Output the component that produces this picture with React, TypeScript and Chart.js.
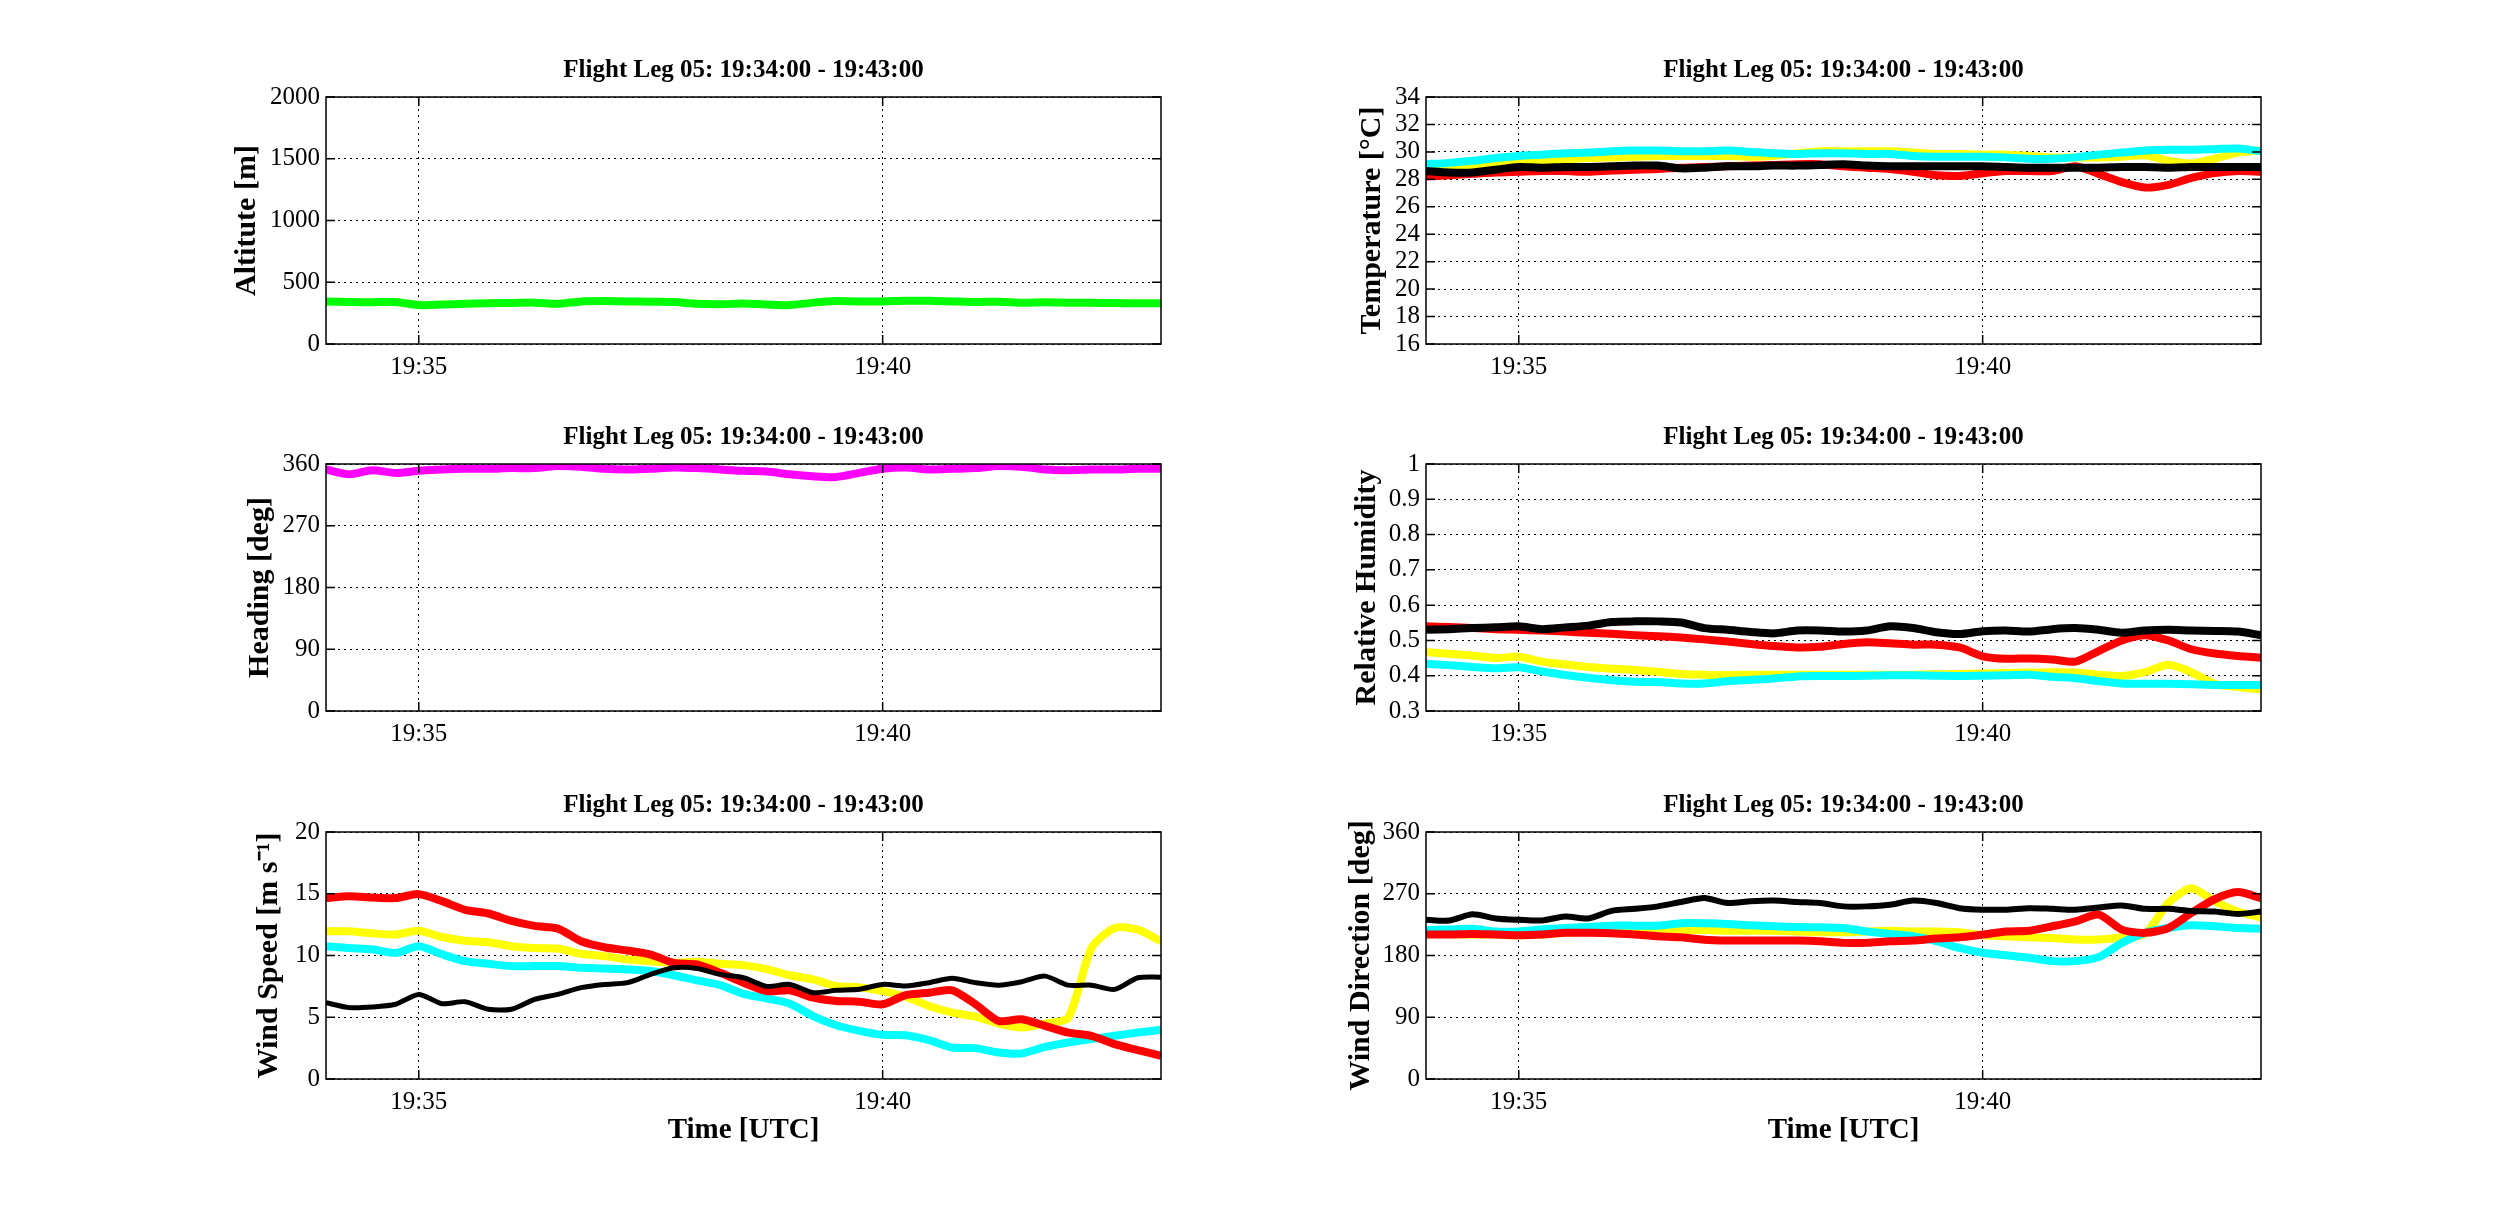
import React, { useEffect, useRef } from 'react';
import { Chart, registerables } from 'chart.js';

Chart.register(...registerables);
Chart.defaults.font.family = "'Liberation Serif', 'Times New Roman', serif";
Chart.defaults.color = '#000';

// seconds after 19:34:00
const timeSeconds = [0, 15, 30, 45, 60, 75, 90, 105, 120, 135, 150, 165, 180, 195, 210, 225, 240, 255, 270, 285, 300, 315, 330, 345, 360, 375, 390, 405, 420, 435, 450, 465, 480, 495, 510, 525, 540];
const xTickValues = [60, 360];
const xTickLabels = ['19:35', '19:40'];
const legTitle = 'Flight Leg 05: 19:34:00 - 19:43:00';

const altitude = [345, 340, 338, 340, 315, 320, 325, 330, 332, 335, 325, 345, 348, 345, 342, 340, 325, 322, 328, 320, 315, 335, 348, 345, 345, 350, 350, 345, 340, 343, 335, 338, 335, 333, 332, 330, 330];
const heading = [352, 345, 351, 347, 350, 352, 353, 353, 354, 354, 357, 356, 353, 352, 353, 355, 354, 352, 350, 349, 345, 342, 341, 347, 353, 355, 352, 353, 354, 357, 356, 352, 351, 352, 352, 353, 353];

const tempBlack = [28.6, 28.5, 28.5, 28.7, 28.9, 28.85, 28.9, 28.9, 28.95, 29.0, 29.0, 28.8, 28.85, 28.95, 28.95, 29.0, 29.0, 29.05, 29.1, 29.0, 28.95, 28.95, 28.95, 28.95, 28.95, 28.9, 28.85, 28.85, 28.85, 28.85, 28.9, 28.9, 28.85, 28.9, 28.9, 28.9, 28.9];
const tempRed = [28.2, 28.3, 28.4, 28.5, 28.55, 28.6, 28.6, 28.55, 28.65, 28.7, 28.75, 28.85, 28.9, 28.95, 29.0, 29.05, 29.1, 29.1, 28.95, 28.85, 28.75, 28.55, 28.3, 28.25, 28.45, 28.6, 28.6, 28.6, 28.95, 28.4, 27.8, 27.4, 27.6, 28.1, 28.45, 28.6, 28.55];
const tempCyan = [29.1, 29.2, 29.35, 29.55, 29.7, 29.8, 29.9, 29.95, 30.05, 30.1, 30.1, 30.05, 30.05, 30.1, 30.0, 29.9, 29.85, 29.9, 29.9, 29.85, 29.85, 29.7, 29.65, 29.65, 29.65, 29.6, 29.5, 29.5, 29.6, 29.8, 29.95, 30.1, 30.15, 30.15, 30.2, 30.25, 30.05];
const tempYellow = [28.8, 28.8, 28.9, 29.1, 29.2, 29.3, 29.45, 29.55, 29.6, 29.65, 29.7, 29.7, 29.7, 29.7, 29.65, 29.7, 29.9, 30.05, 30.05, 30.05, 30.05, 29.95, 29.85, 29.85, 29.8, 29.8, 29.7, 29.6, 29.6, 29.6, 29.65, 29.75, 29.35, 29.15, 29.5, 29.95, 30.1];

const rhBlack = [0.530, 0.532, 0.535, 0.537, 0.540, 0.532, 0.537, 0.542, 0.552, 0.554, 0.554, 0.551, 0.535, 0.530, 0.524, 0.520, 0.528, 0.528, 0.525, 0.528, 0.540, 0.535, 0.523, 0.518, 0.526, 0.528, 0.525, 0.532, 0.535, 0.530, 0.522, 0.528, 0.530, 0.528, 0.527, 0.525, 0.515];
const rhRed = [0.540, 0.538, 0.535, 0.532, 0.530, 0.528, 0.525, 0.522, 0.519, 0.515, 0.512, 0.508, 0.503, 0.497, 0.490, 0.484, 0.480, 0.482, 0.490, 0.495, 0.492, 0.488, 0.488, 0.480, 0.455, 0.448, 0.449, 0.446, 0.440, 0.470, 0.500, 0.515, 0.500, 0.475, 0.463, 0.456, 0.451];
const rhCyan = [0.434, 0.430, 0.425, 0.421, 0.424, 0.412, 0.402, 0.394, 0.387, 0.383, 0.382, 0.378, 0.378, 0.384, 0.388, 0.392, 0.398, 0.399, 0.399, 0.400, 0.401, 0.401, 0.400, 0.399, 0.400, 0.401, 0.403, 0.397, 0.393, 0.385, 0.378, 0.377, 0.377, 0.376, 0.374, 0.374, 0.374];
const rhYellow = [0.467, 0.462, 0.457, 0.450, 0.454, 0.440, 0.432, 0.425, 0.420, 0.416, 0.411, 0.405, 0.403, 0.402, 0.403, 0.403, 0.403, 0.403, 0.403, 0.403, 0.403, 0.403, 0.404, 0.405, 0.406, 0.408, 0.409, 0.410, 0.409, 0.403, 0.399, 0.410, 0.431, 0.410, 0.377, 0.368, 0.361];

const wsBlack = [6.18, 5.78, 5.83, 6.05, 6.85, 6.1, 6.26, 5.65, 5.65, 6.45, 6.85, 7.4, 7.66, 7.8, 8.47, 9.0, 8.95, 8.47, 8.2, 7.5, 7.66, 6.99, 7.18, 7.26, 7.66, 7.53, 7.8, 8.15, 7.8, 7.6, 7.88, 8.33, 7.6, 7.6, 7.26, 8.2, 8.25];
const wsRed = [14.65, 14.8, 14.7, 14.65, 14.97, 14.4, 13.7, 13.4, 12.8, 12.4, 12.18, 11.16, 10.67, 10.4, 10.08, 9.4, 9.27, 8.6, 7.8, 7.12, 7.18, 6.59, 6.32, 6.26, 6.05, 6.8, 6.99, 7.18, 6.05, 4.7, 4.84, 4.3, 3.76, 3.49, 2.82, 2.34, 1.88];
const wsCyan = [10.75, 10.6, 10.5, 10.2, 10.75, 10.1, 9.54, 9.33, 9.14, 9.14, 9.14, 9.0, 8.95, 8.87, 8.74, 8.4, 7.98, 7.6, 6.9, 6.53, 6.1, 5.1, 4.35, 3.9, 3.58, 3.55, 3.15, 2.55, 2.5, 2.15, 2.07, 2.6, 2.96, 3.23, 3.5, 3.76, 3.98];
const wsYellow = [11.96, 11.96, 11.8, 11.7, 12.0, 11.5, 11.2, 11.08, 10.75, 10.6, 10.56, 10.13, 9.95, 9.68, 9.54, 9.4, 9.49, 9.33, 9.22, 8.9, 8.4, 8.06, 7.53, 7.42, 7.12, 6.67, 5.91, 5.38, 5.05, 4.49, 4.17, 4.49, 4.97, 10.6, 12.23, 12.1, 11.16];

const wdBlack = [232, 231, 240, 234, 232, 231, 237, 234, 245, 248, 251.6, 258, 263.7, 256.5, 259, 260, 258, 256.5, 251.6, 251.6, 254, 260, 256.5, 249, 246.8, 246.8, 249, 248, 246.8, 250, 253, 248, 248, 245, 244, 240.5, 244];
const wdRed = [210.5, 210.5, 211.5, 210.5, 209.5, 210.5, 213, 213, 212.4, 210.5, 208, 206.6, 203, 201.8, 201.8, 201.8, 201.8, 200.8, 198.4, 198.4, 200.8, 201.8, 204.7, 206.6, 210.5, 215, 216, 222.6, 229.8, 239.5, 217.7, 213, 220, 242, 262, 272.4, 263.7];
const wdCyan = [217, 218, 219, 215, 215, 218, 220, 221.6, 223.5, 223.5, 223.5, 227, 227, 226, 224, 222.6, 221.6, 221, 220, 215, 211.4, 208, 200.8, 191, 183.9, 180.5, 176.6, 171.8, 171.8, 177.6, 198.4, 213, 220, 224, 222.6, 220, 219];
const wdYellow = [213, 211, 210.5, 210.5, 209.5, 210.5, 213, 215, 217, 217, 217, 217, 217, 216, 216, 216, 215, 214, 214, 215, 216, 215, 215, 214, 209.5, 208, 206.6, 205.6, 203.2, 203.2, 206.6, 211.5, 256.5, 278, 259, 244, 235.6];

const PLOT_W = 835;
const PLOT_H = 247;
const AXIS_W = 176;
const TITLE_H = 60;
const RIGHT_PAD = 30;

interface Series {
    values: number[];
    color: string;
    width: number;
}

interface PanelProps {
    plotLeft: number;
    plotTop: number;
    yLabel: string;
    yLabelCenter: number;
    yMin: number;
    yMax: number;
    yStep: number;
    series: Series[];
    xTitle?: string;
}

// MATLAB-style closed box with short inward ticks on every side
const boxPlugin = {
    id: 'matlabBox',
    afterDraw(chart: any) {
        const {ctx, chartArea: a, scales} = chart;
        const len = 9;
        ctx.save();
        ctx.strokeStyle = '#000';
        ctx.lineWidth = 1.5;
        ctx.setLineDash([]);
        ctx.strokeRect(a.left, a.top, a.right - a.left, a.bottom - a.top);
        ctx.beginPath();
        scales.x.ticks.forEach((t: any) => {
            const px = scales.x.getPixelForValue(t.value);
            ctx.moveTo(px, a.bottom);
            ctx.lineTo(px, a.bottom - len);
            ctx.moveTo(px, a.top);
            ctx.lineTo(px, a.top + len);
        });
        scales.y.ticks.forEach((t: any) => {
            const py = scales.y.getPixelForValue(t.value);
            ctx.moveTo(a.left, py);
            ctx.lineTo(a.left + len, py);
            ctx.moveTo(a.right, py);
            ctx.lineTo(a.right - len, py);
        });
        ctx.stroke();
        ctx.restore();
    },
};

const fmtTick = (v: number) => String(Math.round(v * 10) / 10);

function Panel(p: PanelProps) {
    const ref = useRef<HTMLCanvasElement>(null);
    const bottomH = p.xTitle ? 80 : 50;
    const width = AXIS_W + PLOT_W + RIGHT_PAD;
    const height = TITLE_H + PLOT_H + bottomH;
    const canvasLeft = p.plotLeft - AXIS_W;

    useEffect(() => {
        if (!ref.current) return;
        const chart = new Chart(ref.current, {
            type: 'line',
            data: {
                datasets: p.series.map((s) => ({
                    data: s.values.map((v, i) => ({x: timeSeconds[i], y: v})),
                    borderColor: s.color,
                    borderWidth: s.width,
                    pointRadius: 0,
                    tension: 0.25,
                    fill: false,
                })),
            },
            options: {
                responsive: false,
                animation: false,
                devicePixelRatio: 1,
                layout: {padding: {left: 0, right: RIGHT_PAD, top: 0, bottom: 0}},
                plugins: {
                    legend: {display: false},
                    tooltip: {enabled: false},
                    title: {
                        display: true,
                        text: legTitle,
                        fullSize: false,
                        color: '#000',
                        font: {size: 25, weight: 'bold'},
                        padding: {top: 19, bottom: 11},
                    },
                },
                scales: {
                    x: {
                        type: 'linear',
                        min: 0,
                        max: 540,
                        afterBuildTicks: (s: any) => {
                            s.ticks = xTickValues.map((v) => ({value: v}));
                        },
                        afterFit: (s: any) => {
                            s.height = bottomH;
                        },
                        ticks: {
                            autoSkip: false,
                            maxRotation: 0,
                            padding: 8,
                            color: '#000',
                            font: {size: 25},
                            callback: (v: any) => xTickLabels[xTickValues.indexOf(Number(v))] ?? '',
                        },
                        grid: {color: '#000', lineWidth: 1, drawTicks: false},
                        border: {display: false, dash: [2, 4]},
                        title: p.xTitle
                            ? {display: true, text: p.xTitle, color: '#000', font: {size: 29, weight: 'bold'}, padding: {top: 0, bottom: 10.6}}
                            : {display: false},
                    },
                    y: {
                        min: p.yMin,
                        max: p.yMax,
                        afterFit: (s: any) => {
                            s.width = AXIS_W;
                        },
                        ticks: {
                            stepSize: p.yStep,
                            autoSkip: false,
                            padding: 6,
                            color: '#000',
                            font: {size: 25},
                            callback: (v: any) => fmtTick(Number(v)),
                        },
                        grid: {color: '#000', lineWidth: 1, drawTicks: false},
                        border: {display: false, dash: [2, 4]},
                        title: {
                            display: true,
                            text: p.yLabel,
                            color: '#000',
                            font: {size: 30, weight: 'bold'},
                            padding: {top: p.yLabelCenter - canvasLeft - 18, bottom: 0},
                        },
                    },
                },
            },
            plugins: [boxPlugin],
        } as any);
        return () => chart.destroy();
    }, []);

    return (
        <canvas
            ref={ref}
            width={width}
            height={height}
            style={{position: 'absolute', left: canvasLeft, top: p.plotTop - TITLE_H, width, height}}
        />
    );
}

const RED = '#ff0000';
const YELLOW = '#ffff00';
const CYAN = '#00ffff';
const BLACK = '#000000';

const four = (black: number[], red: number[], cyan: number[], yellow: number[], blackW = 8): Series[] => [
    {values: black, color: BLACK, width: blackW},
    {values: red, color: RED, width: 8},
    {values: cyan, color: CYAN, width: 8},
    {values: yellow, color: YELLOW, width: 8},
];

export default function App() {
    return (
        <div style={{position: 'absolute', left: 0, top: 0, width: 2500, height: 1224, background: '#fff', overflow: 'hidden'}}>
            <Panel plotLeft={326} plotTop={97} yLabel="Altitute [m]" yLabelCenter={247} yMin={0} yMax={2000} yStep={500}
                   series={[{values: altitude, color: '#00ff00', width: 8}]}/>
            <Panel plotLeft={1426} plotTop={97} yLabel="Temperature [°C]" yLabelCenter={1372} yMin={16} yMax={34} yStep={2}
                   series={four(tempBlack, tempRed, tempCyan, tempYellow)}/>
            <Panel plotLeft={326} plotTop={464} yLabel="Heading [deg]" yLabelCenter={260} yMin={0} yMax={360} yStep={90}
                   series={[{values: heading, color: '#ff00ff', width: 8}]}/>
            <Panel plotLeft={1426} plotTop={464} yLabel="Relative Humidity" yLabelCenter={1367} yMin={0.3} yMax={1} yStep={0.1}
                   series={four(rhBlack, rhRed, rhCyan, rhYellow)}/>
            <Panel plotLeft={326} plotTop={832} yLabel="Wind Speed [m s⁻¹]" yLabelCenter={269} yMin={0} yMax={20} yStep={5}
                   series={four(wsBlack, wsRed, wsCyan, wsYellow, 5)} xTitle="Time [UTC]"/>
            <Panel plotLeft={1426} plotTop={832} yLabel="Wind Direction [deg]" yLabelCenter={1361} yMin={0} yMax={360} yStep={90}
                   series={four(wdBlack, wdRed, wdCyan, wdYellow, 6)} xTitle="Time [UTC]"/>
        </div>
    );
}
